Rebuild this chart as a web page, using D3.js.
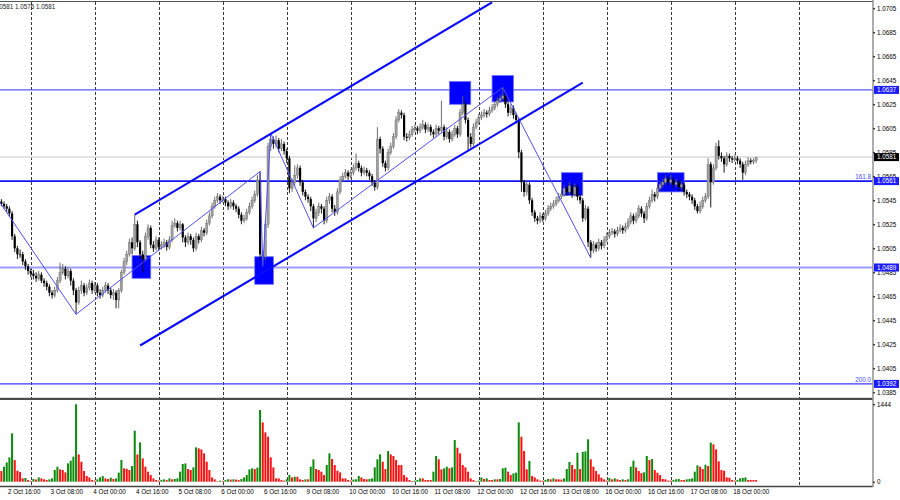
<!DOCTYPE html>
<html lang="en">
<head>
<meta charset="UTF-8">
<title>EURUSD H1</title>
<script src="https://cdnjs.cloudflare.com/ajax/libs/d3/7.8.5/d3.min.js"></script>
<style>
  body { margin: 0; background: #fff; }
  svg { display: block; font-family: "Liberation Sans", Arial, sans-serif; }
  .lbl { font-size: 6.3px; fill: #000; }
  .axis text { font-size: 6.3px; fill: #000; font-family: "Liberation Sans", Arial, sans-serif; }
  .axis line { stroke: #000; }
  .axis path { display: none; }
</style>
</head>
<body>
<svg id="CHART" width="900" height="500"></svg>
<script>
// H1 candles, 2 Oct 13:00 .. 18 Oct 08:00 (one entry per hour)
var firstOpen = 1.0544;
var closes = [
  1.0542,1.0540,1.0538,1.0534,1.0515,1.0505,1.0500,1.0500,1.0494,1.0490,1.0486,1.0484,
  1.0482,1.0480,1.0483,1.0478,1.0476,1.0473,1.0468,1.0466,1.0470,1.0478,1.0485,1.0488,
  1.0482,1.0486,1.0478,1.0470,1.0460,1.0470,1.0474,1.0468,1.0472,1.0476,1.0470,1.0474,
  1.0468,1.0466,1.0470,1.0474,1.0470,1.0466,1.0468,1.0462,1.0470,1.0485,1.0494,1.0500,
  1.0510,1.0505,1.0525,1.0510,1.0500,1.0496,1.0515,1.0522,1.0508,1.0505,1.0512,1.0506,
  1.0508,1.0510,1.0506,1.0512,1.0524,1.0526,1.0522,1.0525,1.0514,1.0510,1.0515,1.0512,
  1.0505,1.0515,1.0512,1.0520,1.0518,1.0526,1.0532,1.0540,1.0545,1.0548,1.0545,1.0546,
  1.0543,1.0540,1.0543,1.0540,1.0538,1.0533,1.0528,1.0530,1.0535,1.0540,1.0545,1.0550,
  1.0562,1.0500,1.0498,1.0525,1.0590,1.0596,1.0592,1.0595,1.0588,1.0592,1.0586,1.0580,
  1.0555,1.0560,1.0566,1.0572,1.0560,1.0552,1.0548,1.0546,1.0540,1.0530,1.0535,1.0540,
  1.0538,1.0528,1.0545,1.0548,1.0538,1.0535,1.0552,1.0562,1.0565,1.0568,1.0565,1.0568,
  1.0572,1.0576,1.0572,1.0568,1.0570,1.0568,1.0565,1.0560,1.0556,1.0596,1.0588,1.0576,
  1.0572,1.0585,1.0590,1.0598,1.0612,1.0618,1.0616,1.0598,1.0597,1.0600,1.0604,1.0605,
  1.0603,1.0606,1.0608,1.0604,1.0606,1.0602,1.0600,1.0605,1.0603,1.0606,1.0598,1.0602,
  1.0596,1.0600,1.0605,1.0600,1.0618,1.0625,1.0612,1.0598,1.0592,1.0606,1.0610,1.0614,
  1.0616,1.0618,1.0617,1.0620,1.0622,1.0625,1.0628,1.0630,1.0632,1.0625,1.0618,1.0622,
  1.0616,1.0612,1.0585,1.0560,1.0552,1.0558,1.0545,1.0535,1.0530,1.0528,1.0532,1.0530,
  1.0534,1.0538,1.0540,1.0542,1.0545,1.0548,1.0550,1.0555,1.0552,1.0557,1.0550,1.0556,
  1.0548,1.0545,1.0530,1.0538,1.0510,1.0503,1.0508,1.0505,1.0510,1.0507,1.0512,1.0515,
  1.0518,1.0519,1.0517,1.0520,1.0522,1.0520,1.0523,1.0527,1.0532,1.0528,1.0532,1.0538,
  1.0534,1.0530,1.0540,1.0545,1.0550,1.0548,1.0555,1.0558,1.0560,1.0563,1.0560,1.0562,
  1.0558,1.0560,1.0556,1.0558,1.0552,1.0550,1.0548,1.0545,1.0540,1.0536,1.0540,1.0545,
  1.0548,1.0575,1.0560,1.0572,1.0590,1.0582,1.0580,1.0575,1.0582,1.0580,1.0579,1.0580,
  1.0578,1.0575,1.0568,1.0575,1.0578,1.0577,1.0578,1.0581
];
var highs = [
  1.0546,1.0544,1.0542,1.0540,1.0536,1.0517,1.0507,1.0504,1.0502,1.0496,1.0492,1.0488,
  1.0487,1.0485,1.0486,1.0485,1.0480,1.0478,1.0475,1.0470,1.0473,1.0481,1.0493,1.0492,
  1.0490,1.0489,1.0488,1.0480,1.0472,1.0473,1.0478,1.0476,1.0475,1.0479,1.0478,1.0477,
  1.0476,1.0471,1.0473,1.0477,1.0476,1.0472,1.0471,1.0470,1.0472,1.0487,1.0497,1.0503,
  1.0513,1.0514,1.0533,1.0528,1.0512,1.0503,1.0518,1.0525,1.0524,1.0511,1.0515,1.0514,
  1.0511,1.0513,1.0512,1.0515,1.0528,1.0530,1.0528,1.0528,1.0526,1.0516,1.0518,1.0517,
  1.0514,1.0518,1.0517,1.0523,1.0522,1.0529,1.0535,1.0543,1.0548,1.0551,1.0550,1.0549,
  1.0548,1.0545,1.0546,1.0545,1.0542,1.0540,1.0535,1.0533,1.0538,1.0543,1.0548,1.0553,
  1.0566,1.0569,1.0503,1.0528,1.0593,1.0601,1.0598,1.0599,1.0597,1.0596,1.0594,1.0588,
  1.0582,1.0563,1.0574,1.0575,1.0574,1.0562,1.0554,1.0550,1.0548,1.0542,1.0538,1.0543,
  1.0542,1.0540,1.0548,1.0551,1.0550,1.0541,1.0555,1.0565,1.0568,1.0571,1.0570,1.0571,
  1.0575,1.0584,1.0578,1.0574,1.0573,1.0572,1.0570,1.0567,1.0562,1.0606,1.0598,1.0590,
  1.0578,1.0588,1.0593,1.0601,1.0615,1.0621,1.0620,1.0618,1.0601,1.0603,1.0607,1.0608,
  1.0607,1.0609,1.0612,1.0610,1.0609,1.0608,1.0604,1.0608,1.0607,1.0628,1.0608,1.0606,
  1.0604,1.0603,1.0608,1.0607,1.0621,1.0632,1.0627,1.0614,1.0601,1.0609,1.0613,1.0617,
  1.0619,1.0621,1.0620,1.0623,1.0625,1.0628,1.0631,1.0633,1.0639,1.0634,1.0627,1.0625,
  1.0624,1.0618,1.0614,1.0587,1.0562,1.0561,1.0560,1.0547,1.0537,1.0532,1.0535,1.0534,
  1.0537,1.0541,1.0543,1.0545,1.0548,1.0551,1.0553,1.0558,1.0557,1.0560,1.0559,1.0559,
  1.0558,1.0550,1.0547,1.0541,1.0540,1.0512,1.0511,1.0510,1.0513,1.0512,1.0515,1.0518,
  1.0521,1.0522,1.0521,1.0523,1.0525,1.0524,1.0526,1.0530,1.0535,1.0534,1.0535,1.0541,
  1.0540,1.0536,1.0543,1.0548,1.0554,1.0552,1.0558,1.0561,1.0563,1.0566,1.0565,1.0566,
  1.0564,1.0563,1.0562,1.0561,1.0560,1.0554,1.0552,1.0550,1.0547,1.0542,1.0544,1.0548,
  1.0551,1.0580,1.0577,1.0575,1.0593,1.0595,1.0585,1.0582,1.0585,1.0584,1.0582,1.0583,
  1.0582,1.0580,1.0577,1.0578,1.0581,1.0580,1.0580,1.0581
];
var lows = [
  1.0540,1.0538,1.0535,1.0531,1.0512,1.0502,1.0496,1.0497,1.0491,1.0487,1.0483,1.0481,
  1.0479,1.0477,1.0478,1.0476,1.0473,1.0470,1.0465,1.0463,1.0464,1.0468,1.0476,1.0483,
  1.0479,1.0480,1.0474,1.0466,1.0450,1.0458,1.0467,1.0465,1.0466,1.0470,1.0467,1.0468,
  1.0465,1.0463,1.0464,1.0468,1.0467,1.0463,1.0462,1.0455,1.0455,1.0468,1.0483,1.0491,
  1.0498,1.0500,1.0503,1.0506,1.0496,1.0485,1.0494,1.0512,1.0505,1.0502,1.0503,1.0503,
  1.0504,1.0505,1.0503,1.0504,1.0510,1.0522,1.0519,1.0520,1.0510,1.0506,1.0508,1.0508,
  1.0502,1.0503,1.0509,1.0510,1.0515,1.0516,1.0524,1.0530,1.0538,1.0543,1.0542,1.0543,
  1.0540,1.0537,1.0538,1.0537,1.0535,1.0530,1.0525,1.0526,1.0528,1.0533,1.0538,1.0543,
  1.0548,1.0495,1.0490,1.0495,1.0522,1.0586,1.0588,1.0589,1.0585,1.0586,1.0583,1.0576,
  1.0551,1.0552,1.0557,1.0563,1.0557,1.0549,1.0545,1.0543,1.0536,1.0522,1.0527,1.0532,
  1.0534,1.0525,1.0526,1.0542,1.0535,1.0532,1.0533,1.0550,1.0560,1.0563,1.0562,1.0563,
  1.0566,1.0570,1.0569,1.0565,1.0566,1.0565,1.0562,1.0557,1.0553,1.0554,1.0584,1.0573,
  1.0569,1.0570,1.0583,1.0588,1.0596,1.0610,1.0613,1.0595,1.0594,1.0595,1.0598,1.0602,
  1.0600,1.0601,1.0604,1.0601,1.0602,1.0599,1.0597,1.0598,1.0600,1.0601,1.0595,1.0596,
  1.0593,1.0594,1.0598,1.0597,1.0598,1.0616,1.0609,1.0587,1.0589,1.0590,1.0604,1.0608,
  1.0612,1.0614,1.0614,1.0615,1.0618,1.0620,1.0623,1.0626,1.0628,1.0622,1.0615,1.0616,
  1.0613,1.0609,1.0580,1.0552,1.0548,1.0549,1.0542,1.0532,1.0527,1.0525,1.0526,1.0527,
  1.0528,1.0532,1.0536,1.0538,1.0540,1.0543,1.0546,1.0548,1.0549,1.0550,1.0547,1.0548,
  1.0545,1.0542,1.0527,1.0528,1.0506,1.0497,1.0501,1.0502,1.0503,1.0504,1.0505,1.0510,
  1.0513,1.0516,1.0514,1.0515,1.0518,1.0517,1.0518,1.0521,1.0525,1.0525,1.0526,1.0530,
  1.0531,1.0526,1.0528,1.0538,1.0543,1.0544,1.0546,1.0553,1.0556,1.0558,1.0557,1.0558,
  1.0555,1.0556,1.0553,1.0554,1.0549,1.0547,1.0545,1.0542,1.0537,1.0534,1.0534,1.0538,
  1.0543,1.0546,1.0539,1.0558,1.0570,1.0579,1.0577,1.0568,1.0573,1.0577,1.0576,1.0577,
  1.0575,1.0572,1.0562,1.0566,1.0573,1.0575,1.0575,1.0576
];
var volumes = [
  199,280,360,454,902,404,205,180,62,70,31,15,
  50,40,80,62,44,31,44,62,218,280,230,218,
  174,342,392,467,1444,510,373,199,106,80,31,20,
  44,80,105,62,50,75,50,60,170,404,249,240,
  218,292,952,510,734,435,280,187,124,62,31,20,
  35,44,30,62,44,50,62,187,330,340,236,218,
  267,640,622,603,529,373,218,80,44,10,20,15,
  30,44,40,44,40,30,50,80,124,230,249,236,
  262,1337,1107,920,840,454,267,62,62,31,20,44,
  124,80,93,93,44,31,44,44,280,417,236,218,
  187,124,311,529,423,311,205,174,62,62,31,20,
  40,44,106,80,50,44,50,62,267,417,510,373,
  236,572,510,479,404,311,311,124,80,31,12,20,
  31,62,62,31,31,31,187,479,417,230,249,280,
  250,267,777,634,529,311,267,187,62,31,10,20,
  80,50,62,31,31,44,44,50,249,261,187,124,
  155,168,1107,840,572,230,386,106,80,44,20,20,
  31,50,44,62,44,44,40,62,236,367,311,236,
  541,236,554,566,790,417,280,199,137,75,44,20,
  68,44,62,44,31,44,31,44,280,392,267,199,
  160,175,479,404,423,218,168,124,50,44,20,20,
  31,44,50,31,31,44,50,62,187,305,280,236,
  317,292,728,697,603,379,218,205,80,75,31,20,
  31,62,70,80,31,31,31,31
];

// axes
var priceTicks = [1.0705,1.0685,1.0665,1.0645,1.0625,1.0605,1.0585,1.0565,1.0545,1.0525,
                  1.0505,1.0485,1.0465,1.0445,1.0425,1.0405,1.0385];
var volumeTicks = [0, 1444];
var dayStarts = [11,35,59,83,107,131,155,179,203,227,251,275,299];
var timeLabelIdx = [3,19,35,51,67,83,99,115,131,147,163,179,195,211,227,243,259,275];
var timeLabelText = ["2 Oct 16:00","3 Oct 08:00","4 Oct 00:00","4 Oct 16:00","5 Oct 08:00",
  "6 Oct 00:00","6 Oct 16:00","9 Oct 08:00","10 Oct 00:00","10 Oct 16:00","11 Oct 08:00",
  "12 Oct 00:00","12 Oct 16:00","13 Oct 08:00","16 Oct 00:00","16 Oct 16:00","17 Oct 08:00",
  "18 Oct 00:00"];

// drawn objects
var levelPrices = [1.0637, 1.0561, 1.0489, 1.0392];
var levelTags = ["", "161.8", "", "200.0"];
var bidPrice = 1.0581;
var zigIdx = [-0.5, 28, 97, 98, 101, 117, 188, 221];
var zigPrice = [1.0543, 1.0450, 1.0569, 1.0490, 1.0601, 1.0522, 1.0639, 1.0497];
var channelUpper = [[50, 1.0533], [184, 1.0710]];
var channelLower = [[52, 1.0424], [218, 1.0643]];
var boxFrom = [49, 95, 168, 184, 210, 246];
var boxTo = [56, 102, 176, 192, 218, 256];
var boxTop = [1.0499, 1.0498, 1.0644, 1.0649, 1.0568, 1.0568];
var boxBottom = [1.0480, 1.0475, 1.0625, 1.0627, 1.0549, 1.0552];
var headerText = "1.0581 1.0576 1.0581";

var mtChart = {
  draw: function(){
    var svg = d3.select("#CHART");
    var axisX = 873;

    var x = d3.scaleLinear().domain([0, closes.length - 1]).range([1.4, 756.1]);
    var y = d3.scaleLinear().domain([1.0385, 1.0705]).range([392.3, 8.3]);
    var yv = d3.scaleLinear().domain([0, 1444]).range([481.7, 404.3]);

    var bars = closes.map(function(c, i){
      var o = i === 0 ? firstOpen : closes[i - 1];
      return { i: i, o: o, c: c, h: Math.max(highs[i], o, c), l: Math.min(lows[i], o, c) };
    });

    svg.append("rect").attr("width", 900).attr("height", 500).attr("fill", "#fff");

    svg.append("clipPath").attr("id", "plotClip")
      .append("rect").attr("x", 0).attr("y", 2).attr("width", axisX).attr("height", 395);

    // day separators
    svg.append("g").selectAll("line").data(dayStarts).join("line")
      .attr("x1", function(d){ return Math.round(x(d)) + 0.5; })
      .attr("x2", function(d){ return Math.round(x(d)) + 0.5; })
      .attr("y1", 2).attr("y2", 486)
      .attr("stroke", "#222").attr("stroke-width", 0.9)
      .attr("stroke-dasharray", "3,2");

    var plot = svg.append("g").attr("clip-path", "url(#plotClip)");

    // current bid line
    plot.append("line")
      .attr("x1", 0).attr("x2", axisX)
      .attr("y1", y(bidPrice)).attr("y2", y(bidPrice))
      .attr("stroke", "#d8d8d8").attr("stroke-width", 1.5);

    var levelColor = ["#3030ff", "#1414f5", "#9c9cff", "#3a3aff"];
    var levelWidth = [1, 1.7, 2, 1.1];
    plot.append("g").selectAll("line").data(levelPrices).join("line")
      .attr("x1", 0).attr("x2", axisX)
      .attr("y1", function(d){ return y(d); }).attr("y2", function(d){ return y(d); })
      .attr("stroke", function(d, k){ return levelColor[k]; })
      .attr("stroke-width", function(d, k){ return levelWidth[k]; });

    // blue rectangles behind the candles
    plot.append("g").selectAll("rect").data(boxFrom).join("rect")
      .attr("x", function(d){ return x(d); })
      .attr("y", function(d, k){ return y(boxTop[k]); })
      .attr("width", function(d, k){ return x(boxTo[k]) - x(d); })
      .attr("height", function(d, k){ return y(boxBottom[k]) - y(boxTop[k]); })
      .attr("fill", "#0000ff").attr("stroke", "#6f6fff").attr("stroke-width", 0.8);

    // candles
    var candle = plot.append("g").selectAll("g").data(bars).join("g");
    candle.append("line")
      .attr("x1", function(d){ return x(d.i); }).attr("x2", function(d){ return x(d.i); })
      .attr("y1", function(d){ return y(d.h); }).attr("y2", function(d){ return y(d.l); })
      .attr("stroke", function(d){ return d.c > d.o ? "#5e5e5e" : "#000"; })
      .attr("stroke-width", 0.9);
    candle.append("rect")
      .attr("x", function(d){ return x(d.i) - 1.1; })
      .attr("width", 2.2)
      .attr("y", function(d){ return y(Math.max(d.o, d.c)); })
      .attr("height", function(d){ return Math.max(0.8, Math.abs(y(d.o) - y(d.c))); })
      .attr("fill", function(d){ return d.c > d.o ? "#9e9e9e" : "#000"; })
      .attr("stroke", function(d){ return d.c > d.o ? "#707070" : "none"; })
      .attr("stroke-width", 0.4);

    // zigzag
    plot.append("path")
      .datum(zigIdx.map(function(d, k){ return [x(d), y(zigPrice[k])]; }))
      .attr("d", d3.line())
      .attr("fill", "none").attr("stroke", "#5050ff").attr("stroke-width", 1);

    // channel
    plot.append("g").selectAll("line").data([channelUpper, channelLower]).join("line")
      .attr("x1", function(d){ return x(d[0][0]); }).attr("y1", function(d){ return y(d[0][1]); })
      .attr("x2", function(d){ return x(d[1][0]); }).attr("y2", function(d){ return y(d[1][1]); })
      .attr("stroke", "#0a0aff").attr("stroke-width", 2.1);

    // fibo tags on the levels
    svg.append("g").selectAll("text").data(levelTags).join("text")
      .attr("class", "lbl")
      .attr("x", 871).attr("y", function(d, k){ return y(levelPrices[k]) - 2; })
      .attr("text-anchor", "end").style("fill", "#4a4aff")
      .text(function(d){ return d; });

    // header
    svg.append("text").attr("class", "lbl").attr("x", -6).attr("y", 9).style("fill", "#222")
      .text(headerText);

    // volumes
    svg.append("g").selectAll("rect").data(volumes).join("rect")
      .attr("x", function(d, i){ return x(i) - 1; })
      .attr("width", 2)
      .attr("y", function(d){ return yv(d); })
      .attr("height", function(d){ return yv(0) - yv(d); })
      .attr("fill", function(d, i){ return i > 0 && d > volumes[i - 1] ? "#0b8a0b" : "#ff1010"; });

    // frame
    svg.append("line").attr("x1", 0).attr("x2", axisX).attr("y1", 1.5).attr("y2", 1.5)
      .attr("stroke", "#555").attr("stroke-width", 1.2);
    svg.append("rect").attr("x", 0).attr("y", 397.8).attr("width", axisX).attr("height", 2.2)
      .attr("fill", "#4a4a4a");
    svg.append("line").attr("x1", 0).attr("x2", axisX).attr("y1", 486.5).attr("y2", 486.5)
      .attr("stroke", "#444").attr("stroke-width", 1.3);
    svg.append("line").attr("x1", axisX).attr("x2", axisX).attr("y1", 0).attr("y2", 487)
      .attr("stroke", "#999").attr("stroke-width", 1.6);

    // price axis
    svg.append("g").attr("class", "axis").attr("transform", "translate(" + axisX + ",0)")
      .call(d3.axisRight(y).tickValues(priceTicks).tickFormat(d3.format(".4f"))
        .tickSize(2).tickPadding(2));

    svg.append("g").attr("class", "axis").attr("transform", "translate(" + axisX + ",0)")
      .call(d3.axisRight(yv).tickValues(volumeTicks).tickFormat(d3.format("d"))
        .tickSize(2).tickPadding(2));

    // time axis, labels start at their bar
    var tAxis = svg.append("g").attr("class", "axis").attr("transform", "translate(0,486.5)")
      .call(d3.axisBottom(x).tickValues(timeLabelIdx)
        .tickFormat(function(d, k){ return timeLabelText[k]; })
        .tickSize(0).tickPadding(3));
    tAxis.selectAll("text").attr("text-anchor", "start").attr("x", -2);

    // price tags on the axis
    var tagPrices = levelPrices.concat([bidPrice]);
    var tagFill = ["#1b1bff", "#1b1bff", "#1b1bff", "#1b1bff", "#000"];
    var tag = svg.append("g").selectAll("g").data(tagPrices).join("g")
      .attr("transform", function(d){ return "translate(" + (axisX + 1) + "," + y(d) + ")"; });
    tag.append("rect").attr("x", 0).attr("y", -4).attr("width", 25).attr("height", 8)
      .attr("fill", function(d, k){ return tagFill[k]; });
    tag.append("text").attr("class", "lbl").attr("x", 3).attr("dy", "0.34em")
      .style("fill", "#fff").text(function(d){ return d3.format(".4f")(d); });
  }
};

mtChart.draw();
</script>
</body>
</html>
